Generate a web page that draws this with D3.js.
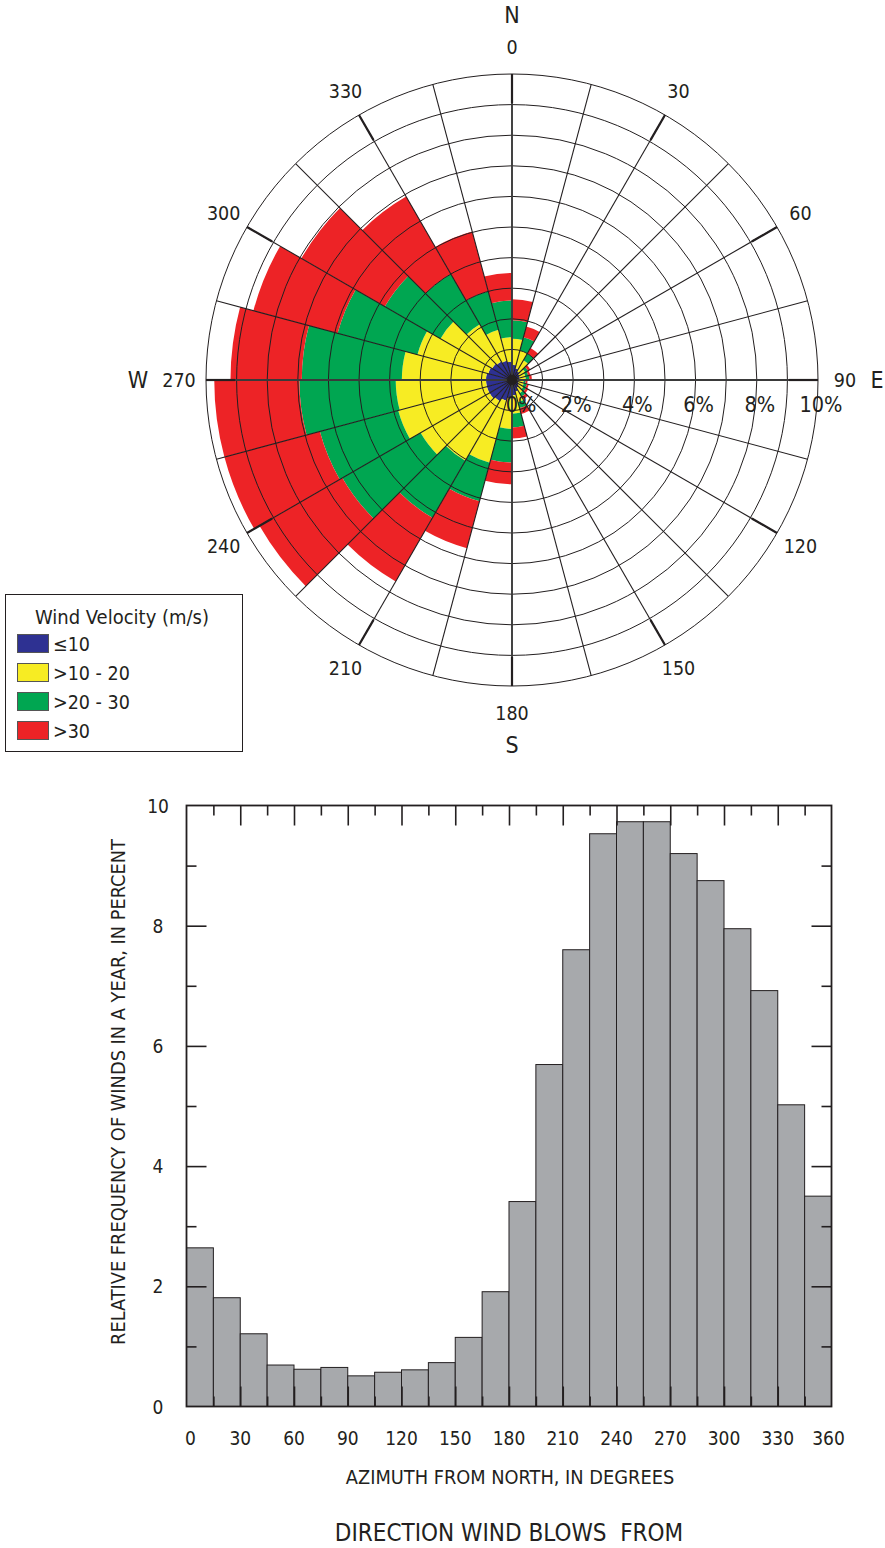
<!DOCTYPE html>
<html>
<head>
<meta charset="utf-8">
<script src="https://cdn.jsdelivr.net/npm/d3@7"></script>
<style>
  body { margin: 0; background: #fff; }
  text { font-family: "Liberation Sans Narrow", "Arial Narrow", "DejaVu Sans Condensed", sans-serif; fill: #231F20; }
</style>
</head>
<body>
<div id="chart"></div>
<script>
// direction bins (start azimuth, 15 degrees wide)
const binStart = [0, 15, 30, 45, 60, 75, 90, 105, 120, 135, 150, 165,
                  180, 195, 210, 225, 240, 255, 270, 285, 300, 315, 330, 345];

// relative frequency of winds in a year, percent (histogram)
const freq = [2.64, 1.81, 1.21, 0.69, 0.62, 0.65, 0.51, 0.57, 0.61, 0.73, 1.15, 1.91,
              3.41, 5.69, 7.60, 9.53, 9.73, 9.73, 9.20, 8.75, 7.95, 6.92, 5.02, 3.50];

// wind rose, percent by velocity class
const calm = [0.50, 0.40, 0.33, 0.28, 0.25, 0.25, 0.22, 0.22, 0.25, 0.30, 0.40, 0.50,
              0.60, 0.70, 0.80, 0.85, 0.85, 0.85, 0.85, 0.80, 0.75, 0.70, 0.65, 0.60];
const mid  = [0.85, 0.60, 0.42, 0.22, 0.20, 0.20, 0.16, 0.18, 0.18, 0.20, 0.35, 0.60,
              1.00, 2.10, 2.25, 2.60, 3.00, 2.95, 2.75, 2.40, 1.95, 1.40, 1.05, 0.80];
const high = [0.60, 0.45, 0.25, 0.10, 0.10, 0.12, 0.07, 0.10, 0.10, 0.12, 0.20, 0.45,
              1.10, 1.30, 2.15, 2.95, 2.65, 3.15, 3.27, 2.70, 2.10, 1.90, 1.30, 1.20];
const gale = [0.69, 0.36, 0.21, 0.09, 0.07, 0.08, 0.06, 0.07, 0.08, 0.11, 0.20, 0.36,
              0.71, 1.59, 2.40, 3.13, 3.23, 2.78, 2.33, 2.85, 3.15, 2.92, 2.02, 0.90];

const classNames = ["\u226410", ">10 - 20", ">20 - 30", ">30"];
const classColors = ["#2E3192", "#F7EC23", "#00A651", "#ED2326"];

const compassTicks = [0, 30, 60, 90, 120, 150, 180, 210, 240, 270, 300, 330];
const compassPoints = [{a: 0, t: "N"}, {a: 90, t: "E"}, {a: 180, t: "S"}, {a: 270, t: "W"}];
const ringLabels = [0, 2, 4, 6, 8, 10];

const xTicks = [0, 30, 60, 90, 120, 150, 180, 210, 240, 270, 300, 330, 360];
const yTicks = [0, 2, 4, 6, 8, 10];

const ink = "#231F20";
const svg = d3.select("#chart").append("svg")
    .attr("width", 885)
    .attr("height", 1548);

// ---------------- wind rose ----------------
const cx = 512, cy = 380;
const r = d3.scaleLinear().domain([0, 10]).range([0, 306]);
const rad = d => d * Math.PI / 180;
const rose = svg.append("g").attr("transform", `translate(${cx},${cy})`);

const rows = binStart.map((d, i) => ({dir: d, c0: calm[i], c1: mid[i], c2: high[i], c3: gale[i]}));
const layers = d3.stack().keys(["c0", "c1", "c2", "c3"])(rows);
const arc = d3.arc();

layers.forEach((layer, k) => {
    rose.append("g")
        .selectAll("path")
        .data(layer)
        .join("path")
        .attr("d", d => arc({
            innerRadius: r(d[0]),
            outerRadius: r(d[1]),
            startAngle: rad(d.data.dir),
            endAngle: rad(d.data.dir + 15)
        }))
        .attr("fill", classColors[k]);
});

// rings
rose.append("g")
    .selectAll("circle")
    .data(d3.range(1, 11))
    .join("circle")
    .attr("r", d => r(d))
    .attr("fill", "none")
    .attr("stroke", ink)
    .attr("stroke-width", 1);

// spokes
rose.append("g")
    .selectAll("line")
    .data(binStart)
    .join("line")
    .attr("x1", 0).attr("y1", 0)
    .attr("x2", d => r(10) * Math.sin(rad(d)))
    .attr("y2", d => -r(10) * Math.cos(rad(d)))
    .attr("stroke", d => d % 90 === 0 ? "#3a3a3a" : ink)
    .attr("stroke-width", d => d % 90 === 0 ? 1.9 : 1.1);

// heavier ticks on 30 degree spokes at the rim
rose.append("g")
    .selectAll("line")
    .data(compassTicks)
    .join("line")
    .attr("x1", d => r(9.05) * Math.sin(rad(d)))
    .attr("y1", d => -r(9.05) * Math.cos(rad(d)))
    .attr("x2", d => r(10) * Math.sin(rad(d)))
    .attr("y2", d => -r(10) * Math.cos(rad(d)))
    .attr("stroke", ink)
    .attr("stroke-width", 2.2);

rose.append("circle").attr("r", 5).attr("fill", ink);

// azimuth labels
rose.append("g")
    .selectAll("text")
    .data(compassTicks)
    .join("text")
    .attr("x", d => 333 * Math.sin(rad(d)))
    .attr("y", d => -333 * Math.cos(rad(d)))
    .attr("text-anchor", "middle")
    .attr("dominant-baseline", "central")
    .attr("font-size", 19.5)
    .text(d => d);

rose.append("g")
    .selectAll("text")
    .data(compassPoints)
    .join("text")
    .attr("x", d => (d.t === "W" ? 374 : 365) * Math.sin(rad(d.a)))
    .attr("y", d => -365 * Math.cos(rad(d.a)))
    .attr("text-anchor", "middle")
    .attr("dominant-baseline", "central")
    .attr("font-size", 23)
    .text(d => d.t);

// percent labels
rose.append("g")
    .selectAll("text")
    .data(ringLabels)
    .join("text")
    .attr("x", d => r(d) + (d === 0 ? 9 : 3))
    .attr("y", 24)
    .attr("text-anchor", "middle")
    .attr("dominant-baseline", "central")
    .attr("font-size", 21.5)
    .text(d => d + "%");

// legend
const legend = svg.append("g");
legend.append("rect")
    .attr("x", 5.5).attr("y", 594.5)
    .attr("width", 237).attr("height", 157)
    .attr("fill", "#fff").attr("stroke", ink).attr("stroke-width", 1);
legend.append("text")
    .attr("x", 122).attr("y", 624)
    .attr("text-anchor", "middle")
    .attr("font-size", 20)
    .text("Wind Velocity (m/s)");
const items = legend.selectAll("g.item")
    .data(classNames)
    .join("g")
    .attr("class", "item")
    .attr("transform", (d, i) => `translate(0,${634 + i * 29})`);
items.append("rect")
    .attr("x", 17.5).attr("y", 0.5)
    .attr("width", 31).attr("height", 18)
    .attr("fill", (d, i) => classColors[i])
    .attr("stroke", "#555").attr("stroke-width", 1);
items.append("text")
    .attr("x", 53).attr("y", 17)
    .attr("font-size", 19.5)
    .text(d => d);

// ---------------- histogram ----------------
const x = d3.scaleLinear().domain([0, 360]).range([186.5, 831.5]);
const y = d3.scaleLinear().domain([0, 10]).range([1406.5, 805.5]);
const hist = svg.append("g");

hist.append("g")
    .selectAll("rect")
    .data(binStart)
    .join("rect")
    .attr("x", d => x(d))
    .attr("y", (d, i) => y(freq[i]))
    .attr("width", x(15) - x(0))
    .attr("height", (d, i) => y(0) - y(freq[i]))
    .attr("fill", "#A7A9AC")
    .attr("stroke", ink)
    .attr("stroke-width", 1);

function ticks(axis, values, size, transform) {
    hist.append("g")
        .attr("transform", transform)
        .call(axis.tickValues(values).tickSize(size).tickFormat(""))
        .call(g => g.select(".domain").remove())
        .call(g => g.selectAll("line").attr("stroke", ink).attr("stroke-width", 1.6));
}
const xMajor = d3.range(30, 360, 30);
const xMinor = d3.range(15, 360, 30);
const yMajor = d3.range(2, 10, 2);
const yMinor = d3.range(1, 10, 2);
ticks(d3.axisBottom(x), xMajor, 20, `translate(0,${y(10)})`);
ticks(d3.axisBottom(x), xMinor, 10, `translate(0,${y(10)})`);
ticks(d3.axisTop(x), xMajor, 20, `translate(0,${y(0)})`);
ticks(d3.axisTop(x), xMinor, 10, `translate(0,${y(0)})`);
ticks(d3.axisRight(y), yMajor, 20, `translate(${x(0)},0)`);
ticks(d3.axisRight(y), yMinor, 10, `translate(${x(0)},0)`);
ticks(d3.axisLeft(y), yMajor, 20, `translate(${x(360)},0)`);
ticks(d3.axisLeft(y), yMinor, 10, `translate(${x(360)},0)`);

hist.append("rect")
    .attr("x", x(0)).attr("y", y(10))
    .attr("width", x(360) - x(0)).attr("height", y(0) - y(10))
    .attr("fill", "none").attr("stroke", ink).attr("stroke-width", 1.8);

hist.append("g")
    .selectAll("text")
    .data(xTicks)
    .join("text")
    .attr("x", d => x(d) + (d === 0 ? 4 : d === 360 ? -3 : 0))
    .attr("y", 1445)
    .attr("text-anchor", "middle")
    .attr("font-size", 19)
    .text(d => d);

hist.append("g")
    .selectAll("text")
    .data(yTicks)
    .join("text")
    .attr("x", 158)
    .attr("y", d => y(d))
    .attr("text-anchor", "middle")
    .attr("dominant-baseline", "central")
    .attr("font-size", 19)
    .text(d => d);

hist.append("text")
    .attr("x", 510).attr("y", 1484)
    .attr("text-anchor", "middle")
    .attr("font-size", 19.8)
    .text("AZIMUTH FROM NORTH, IN DEGREES");

hist.append("text")
    .attr("transform", `translate(125,${(y(0) + y(10)) / 2 - 14}) rotate(-90)`)
    .attr("text-anchor", "middle")
    .attr("font-size", 19.8)
    .text("RELATIVE FREQUENCY OF WINDS IN A YEAR, IN PERCENT");

svg.append("text")
    .attr("x", 509).attr("y", 1541)
    .attr("text-anchor", "middle")
    .attr("font-size", 24)
    .style("white-space", "pre")
    .text("DIRECTION WIND BLOWS  FROM");
</script>
</body>
</html>
